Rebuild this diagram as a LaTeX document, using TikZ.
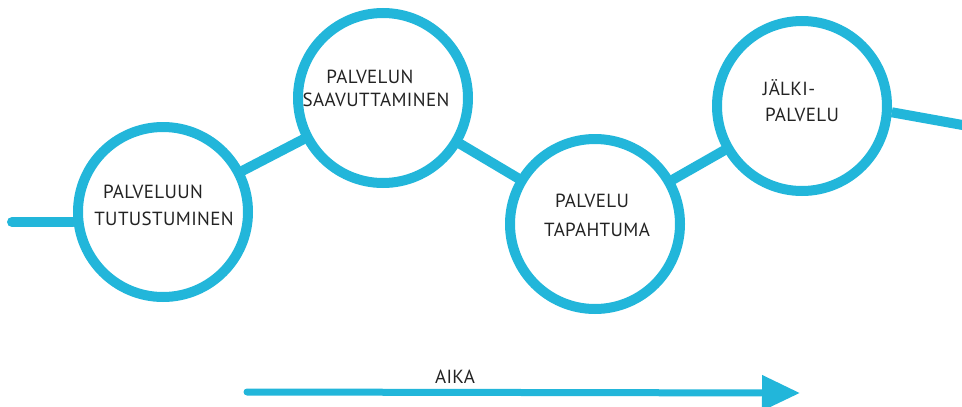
\documentclass[tikz,border=0pt]{standalone}
\usepackage{fontspec}
\newfontfamily\hand[LetterSpace=2]{PT Sans}
\usetikzlibrary{arrows.meta}
\definecolor{marker}{RGB}{34,182,218}
\definecolor{ink}{RGB}{35,35,35}
\tikzset{
  stage/.style={circle, draw=marker, line width=10pt, minimum size=170pt, inner sep=0pt},
  link/.style={draw=marker, line width=10pt, line cap=round},
  lbl/.style={text=ink, font=\hand\fontsize{19}{22}\selectfont, inner sep=0pt},
}
\begin{document}
\begin{tikzpicture}[x=1pt,y=-1pt]
\useasboundingbox (0,0) rectangle (962,407);
% circles
\node[stage] (c1) at (163,212) {};
\node[stage] (c2) at (383,98) {};
\node[stage] (c3) at (595,224) {};
\node[stage] (c4) at (802,106) {};
% free ends
\coordinate (lstart) at (12,222);
\coordinate (rend) at (968,126);
% connectors
\draw[link] (lstart) -- (lstart -| c1.west);
\draw[link] (c1) -- (c2);
\draw[link] (c2) -- (c3);
\draw[link] (c3) -- (c4);
\draw[link, line cap=butt] (c4.-4) -- (rend);
% labels
\node[lbl] (t1a) at (153,192) {PALVELUUN};
\node[lbl] (t1b) at (164,219) {TUTUSTUMINEN};
\node[lbl] (t2a) at (370,77) {PALVELUN};
\node[lbl] (t2b) at (376,100) {SAAVUTTAMINEN};
\node[lbl] (t3a) at (592,201) {PALVELU};
\node[lbl] (t3b) at (597,230) {TAPAHTUMA};
\node[lbl] (t4a) at (789,88) {JÄLKI-};
\node[lbl] (t4b) at (802,115) {PALVELU};
% time arrow
\coordinate (astart) at (247,392);
\coordinate (aend) at (800,393);
\draw[draw=marker, line width=7pt, line cap=round, -{Triangle[length=38pt,width=34pt,fill=marker]}] (astart) -- (aend);
\node[lbl] (aika) at (455,377) {AIKA};
\end{tikzpicture}
\end{document}
